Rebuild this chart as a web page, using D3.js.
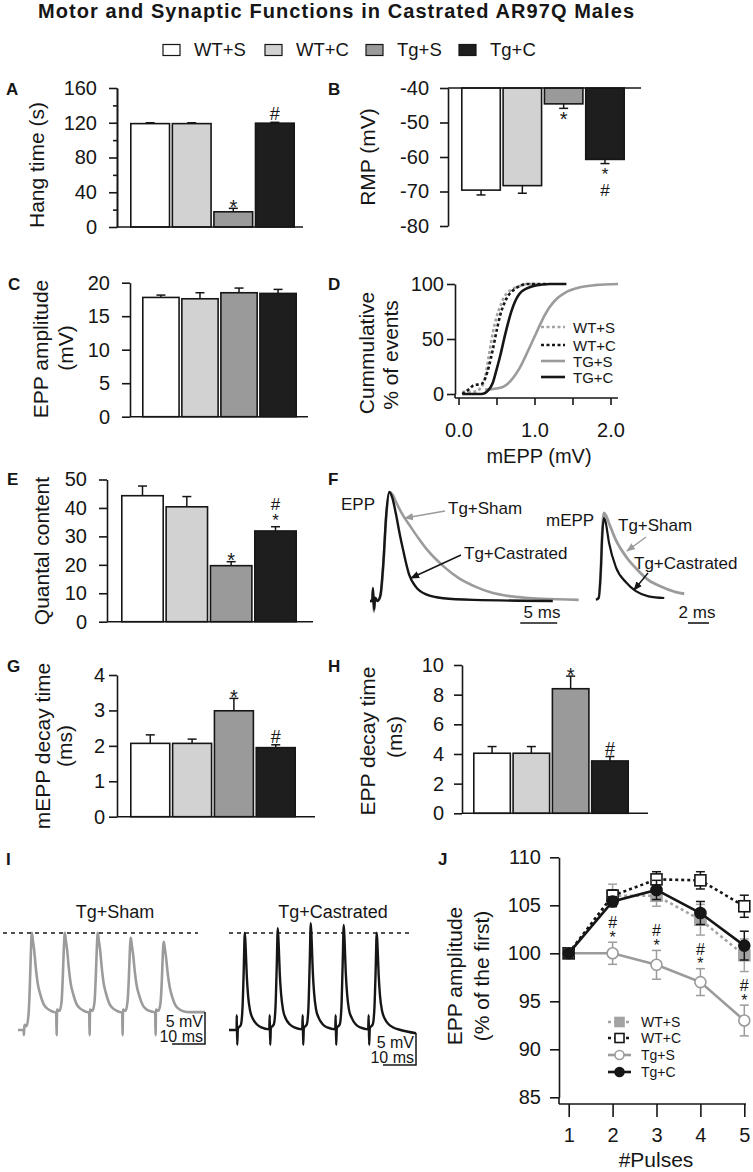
<!DOCTYPE html>
<html><head><meta charset="utf-8">
<script src="https://cdn.jsdelivr.net/npm/d3@7"></script>
<style>body{margin:0;background:#fff}</style>
</head><body><svg id="c" width="753" height="1172"></svg>
<script>
// ================= DATA =================
const groups = ["WT+S", "WT+C", "Tg+S", "Tg+C"];
const hangTime = [119, 119, 17.5, 119.5];
const hangTimeErr = [1, 1, 4, 1];
const hangAnn = [[], [], ["*"], ["#"]];
const hangTicks = [0, 40, 80, 120, 160];
const hangMinor = [20, 60, 100, 140];

const rmp = [-69.6, -68.3, -44.6, -60.7];
const rmpErr = [1.4, 2.2, 1.3, 1.2];
const rmpAnn = [[], [], ["*"], ["*", "#"]];
const rmpTicks = [-80, -70, -60, -50, -40];

const eppAmp = [17.8, 17.6, 18.5, 18.4];
const eppAmpErr = [0.35, 0.9, 0.7, 0.6];
const eppAmpTicks = [0, 5, 10, 15, 20];

const quantal = [44.3, 40.4, 19.7, 31.9];
const quantalErr = [3.4, 3.6, 1.4, 1.5];
const quantalAnn = [[], [], ["*"], ["*", "#"]];
const quantalTicks = [0, 10, 20, 30, 40, 50];

const mEppDecay = [2.07, 2.07, 2.99, 1.95];
const mEppDecayErr = [0.24, 0.12, 0.35, 0.08];
const mEppDecayAnn = [[], [], ["*"], ["#"]];
const mEppDecayTicks = [0, 1, 2, 3, 4];

const eppDecay = [4.05, 4.05, 8.4, 3.53];
const eppDecayErr = [0.45, 0.45, 0.85, 0.3];
const eppDecayAnn = [[], [], ["*"], ["#"]];
const eppDecayTicks = [0, 2, 4, 6, 8, 10];

// Panel D: cumulative mEPP distributions [mV, %]
const cumWTS = [[0.05,2],[0.2,2],[0.3,6],[0.35,15],[0.4,35],[0.45,55],[0.5,70],[0.55,80],[0.6,88],[0.7,95],[0.8,98],[0.9,100],[1.05,100]];
const cumWTC = [[0.05,0],[0.15,5],[0.2,8],[0.3,9],[0.35,14],[0.4,25],[0.45,40],[0.5,57],[0.55,72],[0.6,82],[0.65,89],[0.7,93],[0.8,98],[0.9,100],[1.15,100]];
const cumTGS = [[0.35,4],[0.5,5],[0.6,7],[0.7,13],[0.8,23],[0.9,37],[1.0,52],[1.1,67],[1.2,79],[1.3,87],[1.4,92],[1.6,97],[1.8,99],[2.1,100]];
const cumTGC = [[0.05,0],[0.3,0],[0.4,4],[0.45,10],[0.5,22],[0.55,35],[0.6,50],[0.65,64],[0.7,76],[0.75,85],[0.8,91],[0.9,96],[1.0,98.5],[1.1,99.5],[1.2,100],[1.42,100]];
const cumLegend = ["WT+S", "WT+C", "TG+S", "TG+C"];
const cumXTicks = [0, 0.5, 1, 1.5, 2];
const cumYTicks = [0, 50, 100];

// Panel F: sample traces [ms, normalised amplitude]
const eppSham = [[0,0],[0.3,0],[0.4,0.1],[0.5,-0.1],[0.7,0.02],[1.0,0],[1.4,0.04],[1.8,0.32],[2.2,0.78],[2.65,1.0],[3.1,0.97],[3.5,0.91],[4.6,0.77],[5.3,0.70],[6.5,0.58],[7.6,0.48],[9.9,0.32],[12,0.21],[14.3,0.13],[16.5,0.075],[18.8,0.045],[21,0.03],[23.3,0.02],[28.2,0.01]];
const eppCast = [[0,0],[0.3,0],[0.4,0.12],[0.55,-0.08],[0.7,0.03],[1.0,0],[1.4,0.05],[1.8,0.35],[2.2,0.8],[2.6,1.0],[3.0,0.95],[3.5,0.8],[4.0,0.62],[4.5,0.46],[5.3,0.24],[6.2,0.13],[7.6,0.06],[9.9,0.025],[14,0.01],[24.7,0]];
const mEppSham = [[0,-0.02],[0.25,0],[0.45,0.3],[0.6,0.78],[0.76,1.0],[0.95,0.97],[1.24,0.88],[1.9,0.68],[2.9,0.48],[3.8,0.35],[5.0,0.21],[6.3,0.13],[7.6,0.07],[8.4,0.05]];
const mEppCast = [[0,-0.02],[0.25,0],[0.45,0.3],[0.6,0.75],[0.76,0.94],[0.9,0.9],[1.24,0.65],[1.9,0.36],[2.9,0.18],[3.8,0.08],[5.0,0.02],[6.5,0]];

// Panel I: 100 Hz trains [ms, mV]
const trainSham = [[0,0],[1.7,0],[1.8,-0.8],[1.95,0.8],[2.6,0.6],[3.2,2.5],[3.6,7],[3.9,12],[4.2,15.2],[4.5,14.0],[4.9,12.5],[5.4,9.7],[6.0,7.2],[6.8,5.5],[7.8,4.0],[9.0,3.3],[10.4,2.9],[11.6,2.7],
 [11.7,-0.8],[11.85,3.2],[12.6,3.0],[13.2,4.4],[13.6,8.5],[13.9,12.8],[14.2,15.2],[14.5,14.0],[14.9,12.5],[15.4,9.7],[16.0,7.2],[16.8,5.5],[17.8,4.0],[19.0,3.3],[20.4,2.9],[21.6,2.7],
 [21.7,-0.8],[21.85,3.2],[22.6,3.0],[23.2,4.4],[23.6,8.5],[23.9,12.8],[24.2,15.2],[24.5,14.0],[24.9,12.5],[25.4,9.7],[26.0,7.2],[26.8,5.5],[27.8,4.0],[29.0,3.3],[30.4,2.9],[31.6,2.7],
 [31.7,-0.8],[31.85,3.2],[32.6,3.0],[33.2,4.4],[33.6,8],[33.9,12.2],[34.2,14.4],[34.5,13.3],[34.9,11.8],[35.4,9.2],[36.0,6.9],[36.8,5.3],[37.8,3.9],[39.0,3.2],[40.4,2.9],[41.6,2.7],
 [41.7,-0.8],[41.85,3.2],[42.6,3.0],[43.2,4.2],[43.6,7.6],[43.9,11.7],[44.2,13.8],[44.5,12.8],[44.9,11.3],[45.4,8.8],[46.0,6.7],[46.8,5.1],[47.8,3.8],[49.0,3.2],[50.4,2.9],[52,2.8],[54,2.8],[56.7,2.8]];
const trainCast = [[0,0],[2.3,0],[2.35,2.3],[2.5,-2.3],[2.7,0.2],[3.6,0.8],[4.1,3.5],[4.45,9],[4.8,15.2],[5.05,12.9],[5.4,8.4],[5.8,5.3],[6.4,3.0],[7.2,1.8],[8.4,0.9],[9.8,0.4],[12.2,0.1],
 [12.35,2.3],[12.5,-2.3],[12.7,0.3],[13.6,0.9],[14.1,3.6],[14.45,9.5],[14.8,15.9],[15.05,13.5],[15.4,8.7],[15.8,5.6],[16.4,3.1],[17.2,1.8],[18.4,0.9],[19.8,0.4],[22.2,0.1],
 [22.35,2.3],[22.5,-2.3],[22.7,0.3],[23.6,0.9],[24.1,3.7],[24.45,10],[24.8,16.7],[25.05,14.2],[25.4,9.2],[25.8,5.8],[26.4,3.2],[27.2,1.9],[28.4,0.9],[29.8,0.4],[32.2,0.1],
 [32.35,2.3],[32.5,-2.3],[32.7,0.3],[33.6,0.9],[34.1,3.7],[34.45,10],[34.8,16.4],[35.05,13.9],[35.4,9.0],[35.8,5.7],[36.4,3.1],[37.2,1.9],[38.4,0.9],[39.8,0.4],[42.2,0.1],
 [42.35,2.3],[42.5,-2.3],[42.7,0.3],[43.6,0.9],[44.1,3.5],[44.45,9],[44.8,15.2],[45.05,12.9],[45.4,8.4],[45.8,5.3],[46.4,3.0],[47.2,1.8],[48.4,0.9],[49.8,0.4],[52,0],[56.7,-0.5]];

// Panel J: train EPP amplitude (% of first)
const pulses = [1, 2, 3, 4, 5];
const jWTS = [100, 106.0, 106.0, 103.5, 99.8];
const jWTSErr = [0, 1.2, 1.1, 1.6, 1.7];
const jWTC = [100, 106.0, 107.7, 107.6, 104.9];
const jWTCErr = [0, 0.6, 0.8, 0.9, 1.15];
const jTgS = [100, 100.0, 98.8, 97.0, 93.0];
const jTgSErr = [0, 1.15, 1.5, 1.4, 1.6];
const jTgC = [100, 105.4, 106.6, 104.2, 100.8];
const jTgCErr = [0, 0.5, 1.0, 1.2, 1.5];
const jAnn = [[], ["*","#"], ["*","#"], ["*","#"], ["*","#"]];
const jYTicks = [85, 90, 95, 100, 105, 110];
const jLegend = ["WT+S", "WT+C", "Tg+S", "Tg+C"];

// ================= DRAW =================
const FONT = "'Liberation Sans', Arial, Helvetica, sans-serif";
const fills = ["#ffffff", "#d2d2d2", "#9a9a9a", "#1e1e1e"];
const INK = "#161616", GRAY = "#9b9b9b";
const svg = d3.select("#c").style("font-family", FONT);

function txt(x, y, s, size, opt = {}) {
  const t = svg.append("text").attr("x", x).attr("y", y).text(s)
    .attr("font-size", size).attr("fill", opt.fill || INK)
    .attr("text-anchor", opt.anchor || "start");
  if (opt.bold) t.attr("font-weight", "bold");
  if (opt.db) t.attr("dominant-baseline", opt.db);
  return t;
}
function vlabel(x, y, s, size = 21) {
  svg.append("text").attr("transform", `translate(${x},${y}) rotate(-90)`)
    .attr("text-anchor", "middle").attr("dominant-baseline", "central")
    .attr("font-size", size).attr("fill", INK).text(s);
}
function styleAxis(g, fs = 20) {
  g.selectAll("path.domain").attr("stroke", INK).attr("stroke-width", 1.6);
  g.selectAll(".tick line").attr("stroke", INK).attr("stroke-width", 1.6);
  g.selectAll(".tick text").attr("font-size", fs).attr("fill", INK).attr("font-family", FONT);
}
// significance marks: single mark -> plain text; stacked marks -> one vertical text run
function sigMarks(parent, cx, edge, syms, down, fs = 17) {
  if (!syms.length) return;
  if (syms.length === 1) {
    const s = syms[0];
    let by;
    if (!down) by = s === "*" ? edge + 5.5 : edge - 2;
    else by = s === "*" ? edge + 17.5 : edge + 16;
    parent.append("text").attr("x", cx).attr("y", by).attr("text-anchor", "middle")
      .attr("font-size", s === "*" ? 20 : 18).attr("fill", INK).text(s);
    return;
  }
  // stacked: string read top-to-bottom
  const str = down ? syms.join("") : syms.slice().reverse().join("");
  const t = parent.append("text").attr("x", cx).attr("fill", INK).attr("font-size", fs)
    .style("writing-mode", "vertical-rl").style("text-orientation", "upright")
    .attr("letter-spacing", -2.5).text(str);
  // place so that the mark nearest the error bar sits just beyond it
  const bb = t.node().getBBox();
  if (!down) t.attr("y", edge - bb.height + 1);
  else t.attr("y", edge + 1);
}

// Title
svg.append("text").attr("x", 336).attr("y", 18).attr("text-anchor", "middle")
  .attr("font-size", 20).attr("font-weight", "bold").attr("fill", INK)
  .attr("textLength", 596).attr("lengthAdjust", "spacing")
  .text("Motor and Synaptic Functions in Castrated AR97Q Males");

// Top legend
const legendX = [163, 265, 366, 459];
groups.forEach((gname, i) => {
  const lx = legendX[i];
  svg.append("rect").attr("x", lx).attr("y", 44.5).attr("width", 17).attr("height", 11)
    .attr("fill", fills[i]).attr("stroke", INK).attr("stroke-width", 1.2);
  txt(lx + 31, 56, gname, 18.5);
});

// Panel letters
[["A",6,95],["B",328,95],["C",8,290],["D",328,290],["E",7,485],["F",328,485],["G",7,672],["H",328,672],["I",6,865],["J",438,865]]
  .forEach(([l,x,y]) => txt(x, y, l, 17, {bold: true}));

// ---- bar panel helper ----
function barPanel(c) {
  const y = d3.scaleLinear().domain(c.yDom).range(c.yRange);
  const x = d3.scaleBand().domain(groups).range(c.band).paddingInner(0.03);
  const base = c.base !== undefined ? c.base : 0;
  const g = svg.append("g");
  g.selectAll("rect").data(c.vals).join("rect")
    .attr("x", (d, i) => x(groups[i]) + 0.8)
    .attr("width", x.bandwidth() - 1.6)
    .attr("y", d => Math.min(y(d), y(base)))
    .attr("height", d => Math.abs(y(d) - y(base)))
    .attr("fill", (d, i) => fills[i]).attr("stroke", INK).attr("stroke-width", 1.6);
  const dir = c.down ? -1 : 1;
  c.vals.forEach((v, i) => {
    const cx = x(groups[i]) + x.bandwidth() / 2;
    const e = v + dir * c.errs[i];
    g.append("line").attr("x1", cx).attr("x2", cx).attr("y1", y(v)).attr("y2", y(e))
      .attr("stroke", INK).attr("stroke-width", 1.5);
    g.append("line").attr("x1", cx - 4.5).attr("x2", cx + 4.5).attr("y1", y(e)).attr("y2", y(e))
      .attr("stroke", INK).attr("stroke-width", 1.5);
    sigMarks(g, cx, y(e), c.ann ? c.ann[i] : [], !!c.down);
  });
  const ax = g.append("g").attr("transform", `translate(${c.axisX},0)`)
    .call(d3.axisLeft(y).tickValues(c.ticks).tickSize(8).tickPadding(c.pad).tickSizeOuter(0).tickFormat(d => String(d)));
  styleAxis(ax);
  if (c.minor) {
    const mx = g.append("g").attr("transform", `translate(${c.axisX},0)`)
      .call(d3.axisLeft(y).tickValues(c.minor).tickSize(4).tickFormat("").tickSizeOuter(0));
    styleAxis(mx);
  }
  g.append("line").attr("x1", c.axisX).attr("x2", c.xEnd).attr("y1", y(base)).attr("y2", y(base))
    .attr("stroke", INK).attr("stroke-width", 1.6);
}

// A
barPanel({vals: hangTime, errs: hangTimeErr, ann: hangAnn, yDom: [0,160], yRange: [227, 88],
  ticks: hangTicks, minor: hangMinor, axisX: 117, xEnd: 303, band: [130, 295], pad: 12});
vlabel(36, 165, "Hang time (s)");
// B
barPanel({vals: rmp, errs: rmpErr, ann: rmpAnn, yDom: [-80,-40], yRange: [226, 88], base: -40, down: true,
  ticks: rmpTicks, axisX: 448, xEnd: 641, band: [461, 625], pad: 11});
vlabel(367, 157, "RMP (mV)");
// C
barPanel({vals: eppAmp, errs: eppAmpErr, yDom: [0,20], yRange: [416.7, 282.7],
  ticks: eppAmpTicks, axisX: 130, xEnd: 308, band: [142, 297], pad: 12});
vlabel(40, 349, "EPP amplitude");
vlabel(65, 348, "(mV)");
// E
barPanel({vals: quantal, errs: quantalErr, ann: quantalAnn, yDom: [0,50], yRange: [621.7, 479.5],
  ticks: quantalTicks, axisX: 107, xEnd: 313, band: [121, 297], pad: 12});
vlabel(41, 551, "Quantal content");
// G
barPanel({vals: mEppDecay, errs: mEppDecayErr, ann: mEppDecayAnn, yDom: [0,4], yRange: [816.7, 675],
  ticks: mEppDecayTicks, axisX: 117, xEnd: 315, band: [130, 296], pad: 4});
vlabel(42, 746, "mEPP decay time");
vlabel(64, 746, "(ms)");
// H
barPanel({vals: eppDecay, errs: eppDecayErr, ann: eppDecayAnn, yDom: [0,10], yRange: [813.3, 665],
  ticks: eppDecayTicks, axisX: 462, xEnd: 648, band: [473, 629], pad: 10});
vlabel(367, 741, "EPP decay time");
vlabel(394, 737, "(ms)");

// ---- D: cumulative ----
{
  const x = d3.scaleLinear().domain([0, 2.1]).range([458.5, 618.1]);
  const y = d3.scaleLinear().domain([0, 100]).range([394, 284]);
  const line = d3.line().x(d => x(d[0])).y(d => y(d[1])).curve(d3.curveMonotoneX);
  const series = [
    {d: cumWTS, c: "#a3a3a3", dash: "3,2.5"},
    {d: cumWTC, c: INK, dash: "3,2.5"},
    {d: cumTGS, c: GRAY, dash: null},
    {d: cumTGC, c: INK, dash: null}
  ];
  series.forEach(s => {
    const p = svg.append("path").attr("d", line(s.d)).attr("fill", "none")
      .attr("stroke", s.c).attr("stroke-width", 2.6);
    if (s.dash) p.attr("stroke-dasharray", s.dash);
  });
  const ay = svg.append("g").attr("transform", "translate(455,0)")
    .call(d3.axisLeft(y).tickValues(cumYTicks).tickSize(8).tickPadding(3).tickSizeOuter(0));
  styleAxis(ay);
  svg.append("line").attr("x1", 455).attr("x2", 455).attr("y1", 394).attr("y2", 398).attr("stroke", INK).attr("stroke-width", 1.6);
  const ax = svg.append("g").attr("transform", "translate(0,398)")
    .call(d3.axisBottom(x).tickValues(cumXTicks).tickSize(7).tickPadding(18)
      .tickFormat(d => Number.isInteger(d) ? d3.format(".1f")(d) : ""));
  styleAxis(ax);
  ax.select("path.domain").remove();
  svg.append("line").attr("x1", 455).attr("x2", 618).attr("y1", 398).attr("y2", 398).attr("stroke", INK).attr("stroke-width", 1.6);
  txt(539, 463, "mEPP (mV)", 20, {anchor: "middle"});
  vlabel(366, 353, "Cummulative");
  vlabel(390, 355, "% of events");
  const ly = [327, 345, 361, 377];
  series.forEach((s, i) => {
    const l = svg.append("line").attr("x1", 541).attr("x2", 565).attr("y1", ly[i]).attr("y2", ly[i])
      .attr("stroke", s.c).attr("stroke-width", 2.6);
    if (s.dash) l.attr("stroke-dasharray", s.dash);
    txt(573, ly[i], cumLegend[i], 15, {db: "central"});
  });
}

// ---- F: traces ----
{
  const defs = svg.append("defs");
  [["arrG", GRAY], ["arrK", INK]].forEach(([id, col]) => {
    defs.append("marker").attr("id", id).attr("viewBox", "0 0 10 10").attr("refX", 9).attr("refY", 5)
      .attr("markerWidth", 6).attr("markerHeight", 6).attr("orient", "auto-start-reverse")
      .append("path").attr("d", "M0,1 L10,5 L0,9 z").attr("fill", col);
  });
  const x1 = d3.scaleLinear().domain([0, 28]).range([370, 577.2]);
  const y1 = d3.scaleLinear().domain([0, 1]).range([601, 492]);
  const l1 = d3.line().x(d => x1(d[0])).y(d => y1(d[1])).curve(d3.curveMonotoneX);
  svg.append("path").attr("d", l1(eppSham)).attr("fill", "none").attr("stroke", GRAY).attr("stroke-width", 2.6);
  svg.append("path").attr("d", l1(eppCast)).attr("fill", "none").attr("stroke", INK).attr("stroke-width", 2.4);
  const x2 = d3.scaleLinear().domain([0, 8.5]).range([596, 685.25]);
  const y2 = d3.scaleLinear().domain([0, 1]).range([598, 513]);
  const l2 = d3.line().x(d => x2(d[0])).y(d => y2(d[1])).curve(d3.curveMonotoneX);
  svg.append("path").attr("d", l2(mEppSham)).attr("fill", "none").attr("stroke", GRAY).attr("stroke-width", 2.8);
  svg.append("path").attr("d", l2(mEppCast)).attr("fill", "none").attr("stroke", INK).attr("stroke-width", 2.2);

  txt(341, 510, "EPP", 17);
  txt(448, 514, "Tg+Sham", 17);
  txt(464, 559, "Tg+Castrated", 17);
  txt(546, 526, "mEPP", 17);
  txt(618, 531, "Tg+Sham", 17);
  txt(634, 569, "Tg+Castrated", 17);
  const arrows = [[445, 511, 405, 518, GRAY, "arrG"], [461, 555, 411, 578, INK, "arrK"],
                  [646, 537, 627, 551, GRAY, "arrG"], [648, 573, 634, 590, INK, "arrK"]];
  arrows.forEach(a => svg.append("line").attr("x1", a[0]).attr("y1", a[1]).attr("x2", a[2]).attr("y2", a[3])
    .attr("stroke", a[4]).attr("stroke-width", 1.5).attr("marker-end", `url(#${a[5]})`));
  // scale bars
  svg.append("line").attr("x1", x1(20.3)).attr("x2", x1(25.3)).attr("y1", 623).attr("y2", 623).attr("stroke", INK).attr("stroke-width", 1.6);
  txt(542, 618, "5 ms", 17, {anchor: "middle"});
  svg.append("line").attr("x1", x2(8.76)).attr("x2", x2(10.76)).attr("y1", 623).attr("y2", 623).attr("stroke", INK).attr("stroke-width", 1.6);
  txt(697, 618, "2 ms", 17, {anchor: "middle"});
}

// ---- I: trains ----
{
  const y = d3.scaleLinear().domain([0, 15]).range([1030, 934]);
  const xs = d3.scaleLinear().domain([0, 56.7]).range([18, 205]);
  const xc = d3.scaleLinear().domain([0, 56.7]).range([229, 416]);
  svg.append("path").attr("d", d3.line().x(d => xs(d[0])).y(d => y(d[1])).curve(d3.curveMonotoneX)(trainSham))
    .attr("fill", "none").attr("stroke", GRAY).attr("stroke-width", 2.6);
  svg.append("path").attr("d", d3.line().x(d => xc(d[0])).y(d => y(d[1])).curve(d3.curveMonotoneX)(trainCast))
    .attr("fill", "none").attr("stroke", INK).attr("stroke-width", 2.4);
  svg.append("line").attr("x1", 3).attr("x2", 198).attr("y1", 933).attr("y2", 933)
    .attr("stroke", INK).attr("stroke-width", 1.4).attr("stroke-dasharray", "4,4");
  svg.append("line").attr("x1", 229).attr("x2", 409).attr("y1", 933).attr("y2", 933)
    .attr("stroke", INK).attr("stroke-width", 1.4).attr("stroke-dasharray", "4,4");
  txt(115, 918, "Tg+Sham", 18, {anchor: "middle"});
  txt(333, 918, "Tg+Castrated", 18, {anchor: "middle"});
  // scale bars (10 ms, 5 mV)
  const sb = (xr, yTop, xsFn) => {
    const x0 = xsFn.invert(xr);
    svg.append("path").attr("d", `M${xsFn(x0 - 10)},${y(y.invert(yTop) - 5)} H${xr} V${yTop}`)
      .attr("fill", "none").attr("stroke", INK).attr("stroke-width", 1.5);
    txt(xr - 2, y(y.invert(yTop) - 5) - 17, "5 mV", 16, {anchor: "end"});
    txt(xr - 2, y(y.invert(yTop) - 5) - 2, "10 ms", 16, {anchor: "end"});
  };
  sb(205, 1012, xs);
  sb(416, 1033, xc);
}

// ---- J ----
{
  const x = d3.scaleLinear().domain([1, 5]).range([568.7, 744.3]);
  const y = d3.scaleLinear().domain([85, 110]).range([1097.3, 857.3]);
  const series = [
    {v: jWTS, e: jWTSErr, c: "#a3a3a3", dash: "3,3", m: "sq", fill: "#a3a3a3"},
    {v: jWTC, e: jWTCErr, c: INK, dash: "3,3", m: "sq", fill: "#fff"},
    {v: jTgS, e: jTgSErr, c: GRAY, dash: null, m: "ci", fill: "#fff"},
    {v: jTgC, e: jTgCErr, c: INK, dash: null, m: "ci", fill: INK}
  ];
  const line = d3.line().x((d, i) => x(pulses[i])).y(d => y(d));
  const marker = (g, cx, cy, s, scale = 1) => {
    if (s.m === "sq") g.append("rect").attr("x", cx - 5.5 * scale).attr("y", cy - 5.5 * scale)
      .attr("width", 11 * scale).attr("height", 11 * scale).attr("fill", s.fill).attr("stroke", s.c).attr("stroke-width", 1.6);
    else g.append("circle").attr("cx", cx).attr("cy", cy).attr("r", 5.5 * scale)
      .attr("fill", s.fill).attr("stroke", s.c).attr("stroke-width", 1.6);
  };
  series.forEach(s => {
    const g = svg.append("g");
    const p = g.append("path").attr("d", line(s.v)).attr("fill", "none").attr("stroke", s.c).attr("stroke-width", 2.6);
    if (s.dash) p.attr("stroke-dasharray", s.dash);
    s.v.forEach((v, i) => {
      if (s.e[i] > 0) {
        const cx = x(pulses[i]);
        g.append("line").attr("x1", cx).attr("x2", cx).attr("y1", y(v - s.e[i])).attr("y2", y(v + s.e[i])).attr("stroke", s.c).attr("stroke-width", 1.5);
        [v - s.e[i], v + s.e[i]].forEach(ev => g.append("line").attr("x1", cx - 4.5).attr("x2", cx + 4.5)
          .attr("y1", y(ev)).attr("y2", y(ev)).attr("stroke", s.c).attr("stroke-width", 1.5));
      }
      marker(g, x(pulses[i]), y(v), s);
    });
  });
  // significance marks above Tg+S
  jTgS.forEach((v, i) => sigMarks(svg, x(pulses[i]), y(v + jTgSErr[i]), jAnn[i], false, 16));
  const ay = svg.append("g").attr("transform", "translate(559,0)")
    .call(d3.axisLeft(y).tickValues(jYTicks).tickSize(9).tickPadding(9).tickSizeOuter(0));
  styleAxis(ay);
  svg.append("line").attr("x1", 559).attr("x2", 559).attr("y1", 1097.3).attr("y2", 1104).attr("stroke", INK).attr("stroke-width", 1.6);
  const ax = svg.append("g").attr("transform", "translate(0,1104)")
    .call(d3.axisBottom(x).tickValues(pulses).tickSize(13).tickPadding(11).tickFormat(d3.format("d")));
  styleAxis(ax);
  ax.select("path.domain").remove();
  svg.append("line").attr("x1", 559).attr("x2", 746).attr("y1", 1104).attr("y2", 1104).attr("stroke", INK).attr("stroke-width", 1.6);
  txt(656, 1167, "#Pulses", 21, {anchor: "middle"});
  vlabel(454, 976, "EPP amplitude");
  vlabel(481, 976, "(% of the first)");
  const ly = [1022, 1038, 1055, 1072];
  series.forEach((s, i) => {
    const g = svg.append("g");
    const l = g.append("line").attr("x1", 608).attr("x2", 631).attr("y1", ly[i]).attr("y2", ly[i]).attr("stroke", s.c).attr("stroke-width", 2.6);
    if (s.dash) l.attr("stroke-dasharray", s.dash);
    marker(g, 619.5, ly[i], s, 0.82);
    txt(641, ly[i], jLegend[i], 14, {db: "central"});
  });
}
</script></body></html>
